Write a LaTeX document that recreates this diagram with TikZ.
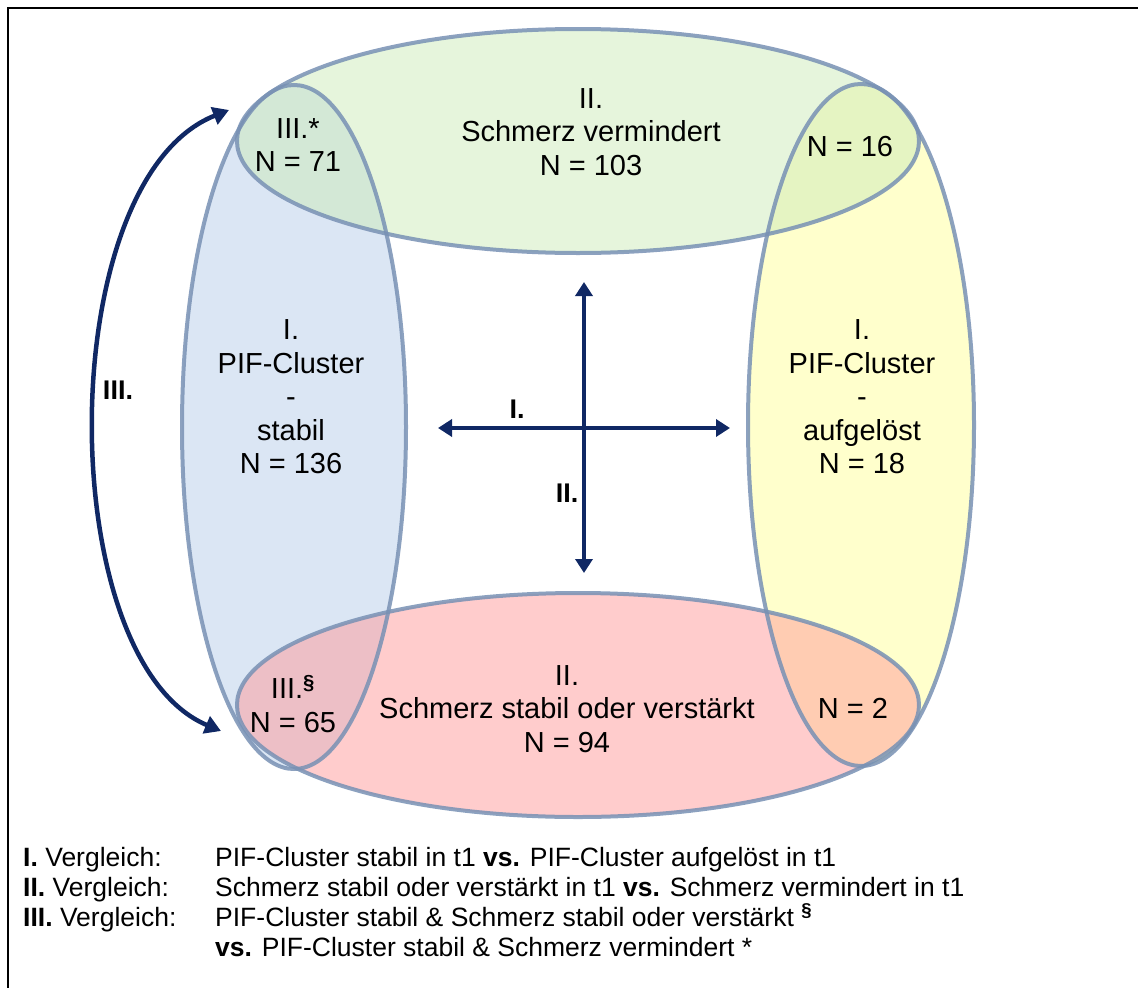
\documentclass[tikz,border=0pt]{standalone}
\usepackage{fontspec}
\setmainfont{Liberation Sans}
\usetikzlibrary{arrows.meta}
\definecolor{navy}{RGB}{16,40,100}
\definecolor{ringline}{RGB}{120,145,180}
\definecolor{cblue}{RGB}{183,205,233}
\definecolor{cgreen}{RGB}{205,235,185}
\definecolor{cyellow}{RGB}{255,255,153}
\definecolor{cred}{RGB}{255,153,153}
\tikzset{
  ring/.style={draw=ringline, draw opacity=0.85, line width=4pt, fill opacity=0.5},
  big/.style={font=\fontsize{29}{33.5}\selectfont, align=center, inner sep=0pt},
  leg/.style={font=\fontsize{26.5}{30}\selectfont, inner sep=0pt, anchor=base west},
  crossarrow/.style={draw=navy, line width=4.5pt, {Triangle[width=17pt,length=14pt]}-{Triangle[width=17pt,length=14pt]}},
  bendarrow/.style={draw=navy, line width=4.5pt, {Triangle[width=18pt,length=16pt]}-{Triangle[width=18pt,length=16pt]}},
  axislabel/.style={font=\fontsize{27}{30}\selectfont\bfseries, inner sep=0pt}
}
\begin{document}
\begin{tikzpicture}[x=1pt,y=-1pt]
\useasboundingbox (0,0) rectangle (1138,988);
% frame (cropped at right and bottom)
\draw[line width=2pt] (8,988) -- (8,8) -- (1138,8);
% ellipses
\fill[cblue, fill opacity=0.5] (294,427) ellipse [x radius=112, y radius=342];
\fill[cyellow, fill opacity=0.5] (861,425) ellipse [x radius=113, y radius=341];
\fill[cgreen, fill opacity=0.5] (578,141) ellipse [x radius=341, y radius=112];
\fill[cred, fill opacity=0.5] (578,705) ellipse [x radius=341, y radius=112];
\draw[ring] (294,427) ellipse [x radius=112, y radius=342];
\draw[ring] (861,425) ellipse [x radius=113, y radius=341];
\draw[ring] (578,141) ellipse [x radius=341, y radius=112];
\draw[ring] (578,705) ellipse [x radius=341, y radius=112];
% texts
\node[big] (top) at (591,132) {II.\\Schmerz vermindert\\N = 103};
\node[big] (bottom) at (567,709) {II.\\Schmerz stabil oder verstärkt\\N = 94};
\node[big] (left) at (291,397) {I.\\PIF-Cluster\\-\\stabil\\N = 136};
\node[big] (right) at (862,397) {I.\\PIF-Cluster\\-\\aufgelöst\\N = 18};
\node[big] (tl) at (298,145) {III.*\\N = 71};
\node[big] (tr) at (850,147) {N = 16};
\node[big] (bl) at (293,704) {III.\textsuperscript{\bfseries\S}\\N = 65};
\node[big] (br) at (853,708) {N = 2};
% cross arrows
\coordinate (hl) at (438,428);
\coordinate (hr) at (730,428);
\coordinate (vt) at (584,282);
\coordinate (vb) at (584,573);
\draw[crossarrow] (hl) -- (hr);
\draw[crossarrow] (vt) -- (vb);
\node[axislabel] (lI) at (517,409) {I.};
\node[axislabel] (lII) at (567,493) {II.};
% curved arrow III
\coordinate (ct) at (229,110);
\coordinate (cb) at (221,731);
\draw[bendarrow] (ct) .. controls (52,180) and (52,660) .. (cb);
\node[axislabel] (lIII) at (118,390) {III.};
% legend
\node[leg] (g1a) at (23,866) {\textbf{I.} Vergleich:};
\node[leg] (g1b) at (215,866) {PIF-Cluster stabil in t1 \textbf{vs.} PIF-Cluster aufgelöst in t1};
\node[leg] (g2a) at (23,896) {\textbf{II.} Vergleich:};
\node[leg] (g2b) at (215,896) {Schmerz stabil oder verstärkt in t1 \textbf{vs.} Schmerz vermindert in t1};
\node[leg] (g3a) at (23,926) {\textbf{III.} Vergleich:};
\node[leg] (g3b) at (215,926) {PIF-Cluster stabil \& Schmerz stabil oder verstärkt \textsuperscript{\bfseries\S}};
\node[leg] (g4b) at (215,956) {\textbf{vs.} PIF-Cluster stabil \& Schmerz vermindert *};
\end{tikzpicture}
\end{document}
